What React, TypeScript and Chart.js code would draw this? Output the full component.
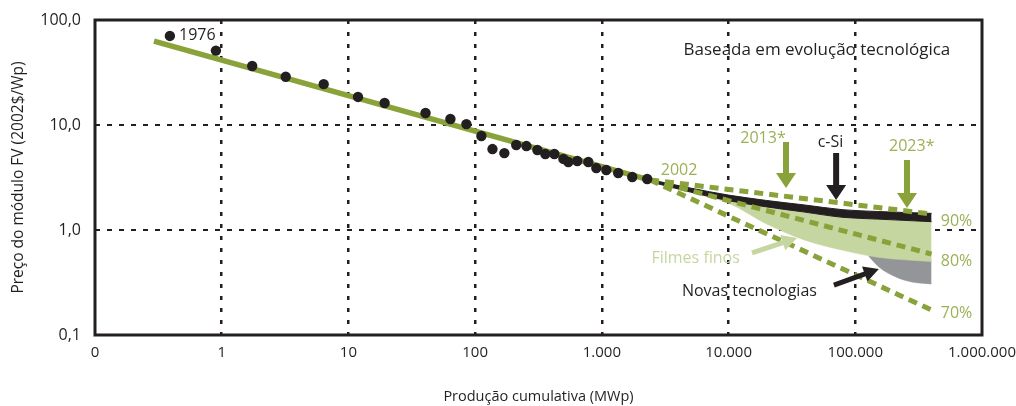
import React, { useEffect, useRef } from 'react';
import { Chart, registerables } from 'chart.js';

Chart.register(...registerables);

// ---- axis ticks ----
const xTickValues = [0.1, 1, 10, 100, 1000, 10000, 100000, 1000000];
const xTickLabels = ['0', '1', '10', '100', '1.000', '10.000', '100.000', '1.000.000'];
const yTickValues = [0.1, 1, 10, 100];
const yTickLabels = ['0,1', '1,0', '10,0', '100,0'];

// ---- historical module prices (cumulative MWp, 2002$/Wp) ----
const histX = [0.39, 0.9, 1.74, 3.2, 6.38, 11.9, 19.3, 40.6, 63.8, 85.3, 112, 137, 170, 211, 254, 310, 358, 422, 497, 544, 640, 782, 904, 1084, 1346, 1738, 2280];
const histY = [70.5, 51.1, 36.5, 28.8, 24.5, 18.5, 16.2, 13.0, 11.4, 10.2, 7.85, 5.9, 5.4, 6.45, 6.3, 5.78, 5.3, 5.3, 4.75, 4.44, 4.54, 4.44, 3.89, 3.73, 3.49, 3.2, 3.06];

// ---- fitted learning curve ----
const trendX = [0.292, 2400];
const trendY = [63, 2.99];

// ---- projections (progress ratios) ----
const projX = [2400, 400000];
const proj90 = [3.0, 1.42];
const proj80 = [3.0, 0.59];
const proj70 = [3.0, 0.173];

// ---- technology bands ----
const bandX = [2400, 5000, 10000, 20000, 40000, 80000, 150000, 400000];
const cSiUpper = [3.02, 2.51, 2.15, 1.91, 1.73, 1.56, 1.5, 1.44];
const cSiLower = [2.88, 2.3, 1.9, 1.66, 1.48, 1.32, 1.27, 1.2];
const thinFilmLower = [2.88, 2.28, 1.8, 1.14, 0.8, 0.64, 0.55, 0.5];
const newTechX = [128000, 153500, 209000, 279000, 400000];
const newTechUpper = [0.575, 0.565, 0.55, 0.535, 0.515];
const newTechLower = [0.56, 0.444, 0.357, 0.32, 0.306];

// ---- annotations (data coordinates) ----
const GREEN = '#8aa23a';
const LABEL_GREEN = '#9bb155';
const LIGHT_GREEN = '#c6d6a0';
const DARK = '#231f20';
const GREY = '#939598';
const FONT = "'Open Sans', sans-serif";

const arrows = [
  { x1: 28400, y1: 6.89, x2: 28400, y2: 2.51, color: GREEN, w: 6, hl: 15, hw: 10 },
  { x1: 70600, y1: 5.41, x2: 70600, y2: 1.93, color: DARK, w: 6, hl: 15, hw: 10 },
  { x1: 256000, y1: 4.64, x2: 256000, y2: 1.62, color: GREEN, w: 6, hl: 15, hw: 10 },
  { x1: 15300, y1: 0.604, x2: 34700, y2: 0.84, color: LIGHT_GREEN, w: 5, hl: 15, hw: 8 },
  { x1: 67800, y1: 0.299, x2: 153500, y2: 0.425, color: DARK, w: 5, hl: 15, hw: 8 },
];

const texts = [
  { t: '1976', x: 0.46, y: 72, color: DARK, size: 16, align: 'left' },
  { t: '2002', x: 4070, y: 3.73, color: LABEL_GREEN, size: 16, align: 'center' },
  { t: '2013*', x: 18700, y: 7.46, color: LABEL_GREEN, size: 16, align: 'center' },
  { t: 'c-Si', x: 63700, y: 6.77, color: DARK, size: 16, align: 'center' },
  { t: '2023*', x: 279000, y: 6.21, color: LABEL_GREEN, size: 16, align: 'center' },
  { t: '90%', x: 473000, y: 1.2, color: LABEL_GREEN, size: 16, align: 'left' },
  { t: '80%', x: 473000, y: 0.499, color: LABEL_GREEN, size: 16, align: 'left' },
  { t: '70%', x: 473000, y: 0.162, color: LABEL_GREEN, size: 16, align: 'left' },
  { t: 'Filmes finos', x: 5500, y: 0.537, color: LIGHT_GREEN, size: 16, align: 'center' },
  { t: 'Novas tecnologias', x: 14600, y: 0.258, color: DARK, size: 16, align: 'center' },
  { t: 'Baseada em evolução tecnológica', x: 49800, y: 51.8, color: DARK, size: 17, align: 'center' },
];

const pts = (xs: number[], ys: number[]) => xs.map((x, i) => ({ x, y: ys[i] }));

const annotationPlugin = {
  id: 'annotations',
  afterDatasetsDraw(chart: any) {
    const { ctx, scales } = chart;
    const sx = scales.x, sy = scales.y;
    ctx.save();
    // frame
    const a = chart.chartArea;
    ctx.strokeStyle = DARK;
    ctx.lineWidth = 3;
    ctx.strokeRect(a.left, a.top, a.right - a.left, a.bottom - a.top);
    // arrows
    arrows.forEach((ar) => {
      const x1 = sx.getPixelForValue(ar.x1), y1 = sy.getPixelForValue(ar.y1);
      const x2 = sx.getPixelForValue(ar.x2), y2 = sy.getPixelForValue(ar.y2);
      const ang = Math.atan2(y2 - y1, x2 - x1);
      const bx = x2 - ar.hl * Math.cos(ang), by = y2 - ar.hl * Math.sin(ang);
      ctx.strokeStyle = ar.color;
      ctx.lineWidth = ar.w;
      ctx.lineCap = 'butt';
      ctx.beginPath();
      ctx.moveTo(x1, y1);
      ctx.lineTo(bx + Math.cos(ang), by + Math.sin(ang));
      ctx.stroke();
      ctx.fillStyle = ar.color;
      ctx.beginPath();
      ctx.moveTo(x2, y2);
      ctx.lineTo(bx + ar.hw * Math.sin(ang), by - ar.hw * Math.cos(ang));
      ctx.lineTo(bx - ar.hw * Math.sin(ang), by + ar.hw * Math.cos(ang));
      ctx.closePath();
      ctx.fill();
    });
    // texts
    texts.forEach((tx) => {
      ctx.font = `${tx.size}px ${FONT}`;
      ctx.fillStyle = tx.color;
      ctx.textAlign = tx.align;
      ctx.textBaseline = 'middle';
      ctx.fillText(tx.t, sx.getPixelForValue(tx.x), sy.getPixelForValue(tx.y));
    });
    ctx.restore();
  },
};

export default function App() {
  const ref = useRef<HTMLCanvasElement>(null);

  useEffect(() => {
    document.body.style.margin = '0';
    const canvas = ref.current!;
    const lineBase = { showLine: true, pointRadius: 0, pointHoverRadius: 0, tension: 0 };
    const chart = new Chart(canvas, {
      type: 'scatter',
      data: {
        datasets: [
          {
            data: pts(histX, histY),
            pointRadius: 5.2,
            pointBackgroundColor: DARK,
            pointBorderWidth: 0,
            showLine: false,
          } as any,
          { ...lineBase, data: pts(trendX, trendY), borderColor: GREEN, borderWidth: 5.5 },
          { ...lineBase, data: pts(projX, proj90), borderColor: GREEN, borderWidth: 5, borderDash: [9, 6] },
          { ...lineBase, data: pts(projX, proj80), borderColor: GREEN, borderWidth: 5, borderDash: [9, 6] },
          { ...lineBase, data: pts(projX, proj70), borderColor: GREEN, borderWidth: 5, borderDash: [9, 6] },
          { ...lineBase, data: pts(bandX, cSiUpper), borderColor: DARK, borderWidth: 1, cubicInterpolationMode: 'monotone' },
          { ...lineBase, data: pts(bandX, cSiLower), borderColor: DARK, borderWidth: 1, cubicInterpolationMode: 'monotone', fill: 5, backgroundColor: DARK },
          { ...lineBase, data: pts(bandX, thinFilmLower), borderColor: LIGHT_GREEN, borderWidth: 0.5, cubicInterpolationMode: 'monotone', fill: 6, backgroundColor: LIGHT_GREEN },
          { ...lineBase, data: pts(newTechX, newTechUpper), borderWidth: 0, borderColor: GREY, cubicInterpolationMode: 'monotone' },
          { ...lineBase, data: pts(newTechX, newTechLower), borderColor: GREY, borderWidth: 0.5, cubicInterpolationMode: 'monotone', fill: 8, backgroundColor: GREY },
        ] as any,
      },
      options: {
        animation: false,
        responsive: false,
        events: [],
        layout: { padding: { left: 0, right: 34, top: 20, bottom: 0 } },
        plugins: { legend: { display: false }, tooltip: { enabled: false } },
        scales: {
          x: {
            type: 'logarithmic',
            min: 0.1,
            max: 1000000,
            afterBuildTicks: (s: any) => { s.ticks = xTickValues.map((v) => ({ value: v })); },
            afterFit: (s: any) => { s.height = 71; s.paddingLeft = 0; s.paddingRight = 0; },
            ticks: {
              autoSkip: false,
              maxRotation: 0,
              padding: 9,
              color: DARK,
              font: { family: FONT, size: 15 },
              callback: (_v: any, i: number) => xTickLabels[i],
            },
            grid: {
              drawTicks: false,
              lineWidth: 2.5,
              color: (c: any) => (c.index === 0 || c.index === xTickValues.length - 1 ? 'rgba(0,0,0,0)' : DARK),
            },
            border: { display: false, dash: [4, 8] },
            title: {
              display: true,
              text: 'Produção cumulativa (MWp)',
              color: DARK,
              font: { family: FONT, size: 14.5 },
              padding: { top: 0, bottom: 0 },
            },
          },
          y: {
            type: 'logarithmic',
            min: 0.1,
            max: 100,
            afterBuildTicks: (s: any) => { s.ticks = yTickValues.map((v) => ({ value: v })); },
            afterFit: (s: any) => { s.width = 95; s.paddingTop = 0; s.paddingBottom = 0; },
            ticks: {
              autoSkip: false,
              padding: 14,
              color: DARK,
              font: { family: FONT, size: 16 },
              callback: (_v: any, i: number) => yTickLabels[i],
            },
            grid: {
              drawTicks: false,
              lineWidth: 2,
              color: (c: any) => (c.index === 0 || c.index === yTickValues.length - 1 ? 'rgba(0,0,0,0)' : DARK),
            },
            border: { display: false, dash: [5, 7] },
            title: {
              display: true,
              text: 'Preço do módulo FV (2002$/Wp)',
              color: DARK,
              font: { family: FONT, size: 15.5 },
              padding: { top: 9, bottom: 0 },
            },
          },
        },
      } as any,
      plugins: [annotationPlugin as any],
    });
    return () => chart.destroy();
  }, []);

  return <canvas ref={ref} width={1016} height={406} style={{ display: 'block', width: 1016, height: 406 }} />;
}
